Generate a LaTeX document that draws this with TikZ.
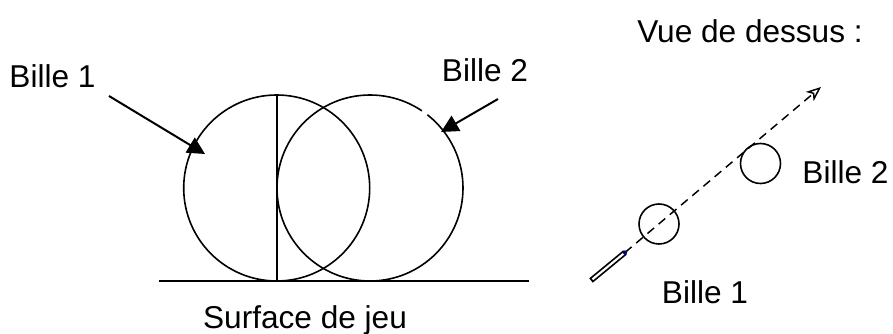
\documentclass[tikz,border=0pt]{standalone}
\usepackage{fontspec}
\setmainfont{Liberation Sans}
\usetikzlibrary{arrows.meta, positioning}
\tikzset{
  bille/.style={draw, circle, line width=1.2pt, inner sep=0pt, outer sep=0pt},
  label/.style={inner sep=0pt, anchor=base, font=\fontsize{23.7}{28}\selectfont},
  line/.style={line width=1.2pt},
  arrow/.style={-{Triangle[length=13pt, width=13pt]}, line width=1.5pt},
  trajet/.style={line width=1.1pt, dash pattern=on 6.5pt off 4.5pt, -{Stealth[open, fill=white, length=11pt, width=9pt, inset=3pt]}}
}
\begin{document}
\begin{tikzpicture}[x=0.75pt, y=-0.75pt]
    \useasboundingbox (0,0) rectangle (893,334);

    % side view
    \node[bille, minimum size=139.5pt] (b1) at (276.7,188) {};
    \node[bille, minimum size=139.5pt] (b2) at (370,188) {};
    \coordinate (solg) at (159,281);
    \coordinate (sold) at (529,281);
    \draw[line] (solg) -- (sold);
    \draw[line] (b1.north) -- (b1.south);
    \draw[white, line width=2.4pt] (b2.52) -- (b2.56);

    \node[label] (l1) at (52.5,88) {Bille 1};
    \node[label] (l2) at (485,82) {Bille 2};
    \node[label] (sol) at (305,329) {Surface de jeu};

    \coordinate (a1) at (109,96);
    \coordinate (t1) at (205,154);
    \coordinate (a2) at (498,99);
    \coordinate (t2) at (441,132);
    \draw[arrow] (a1) -- (t1);
    \draw[arrow] (a2) -- (t2);

    % top view
    \node[label] (vue) at (750,43) {Vue de dessus :};
    \node[bille, minimum size=30pt] (h1) at (659,224) {};
    \node[bille, minimum size=30pt] (h2) at (760.5,163.5) {};
    \node[label] (h2l) at (845.5,184) {Bille 2};
    \node[label] (h1l) at (705,304) {Bille 1};

    \coordinate (queue) at (591,280.5);
    \coordinate (bout) at (625,252.5);
    \coordinate (fin) at (821,87);
    \draw[trajet] (bout) -- (fin);
    \draw[line width=4.2pt] (queue) -- (bout);
    \draw[white, line width=1.6pt, shorten >=1.2pt, shorten <=1.4pt] (queue) -- (bout);
    \fill[blue!50!black] (bout) circle (1.6pt);
\end{tikzpicture}
\end{document}
